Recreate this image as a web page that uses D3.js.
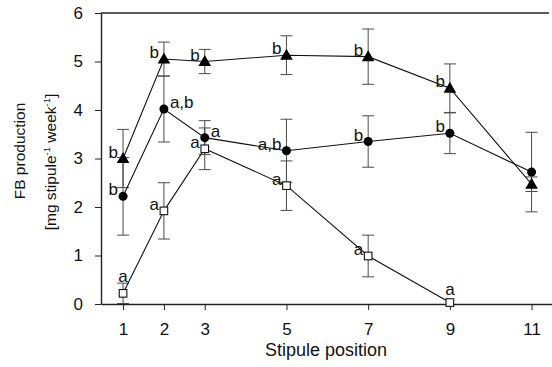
<!DOCTYPE html>
<html>
<head>
<meta charset="utf-8">
<script src="https://cdn.jsdelivr.net/npm/d3@7"></script>
<style>
  body { margin: 0; background: #fff; }
  svg text { font-family: Arial, "Liberation Sans", Helvetica, sans-serif; fill: #111; }
</style>
</head>
<body>
<div id="chart-area"></div>
<script>
// DATA
const positions = [1, 2, 3, 5, 7, 9, 11]
const xTicks = [1, 2, 3, 5, 7, 9, 11]
const yTicks = [0, 1, 2, 3, 4, 5, 6]

// triangles
const triMean = [3.0, 5.05, 5.0, 5.13, 5.1, 4.45, 2.47]
const triErr = [0.6, 0.35, 0.25, 0.4, 0.57, 0.5, 0.15]
const triLetters = ["b", "b", "b", "b", "b", "b", ""]

// circles
const circMean = [2.22, 4.02, 3.43, 3.16, 3.35, 3.52, 2.72]
const circErr = [0.8, 0.68, 0.35, 0.65, 0.53, 0.42, 0.82]
const circLetters = ["b", "a,b", "a", "a,b", "b", "b", ""]

// open squares (no value at 11)
const sqPositions = [1, 2, 3, 5, 7, 9]
const sqMean = [0.22, 1.92, 3.2, 2.44, 0.99, 0.03]
const sqErr = [0.21, 0.58, 0.43, 0.51, 0.43, 0]
const sqLetters = ["a", "a", "a", "a", "a", "a"]

// where each letter sits relative to its marker (l = left, r = right, t = top)
const triSide = ["l", "l", "l", "l", "l", "l", "l"]
const circSide = ["l", "r", "r", "l", "l", "l", "l"]
const sqSide = ["t", "l", "l", "l", "l", "t"]

// SIZE
const W = 552, H = 367
const svg = d3.select("#chart-area").append("svg")
  .attr("width", W).attr("height", H)

const x = d3.scaleLinear().domain([0.46, 11.5]).range([101, 552])
const y = d3.scaleLinear().domain([0, 6]).range([304, 13])

// top frame line
svg.append("line")
  .attr("x1", x(0.46)).attr("x2", 549)
  .attr("y1", y(6)).attr("y2", y(6))
  .attr("stroke", "#222").attr("stroke-width", 1.6)

// axes
const xAxis = svg.append("g")
  .attr("transform", `translate(0,${y(0)})`)
  .call(d3.axisBottom(x).tickValues(xTicks).tickSize(6).tickSizeOuter(0).tickPadding(13))
const yAxis = svg.append("g")
  .attr("transform", `translate(${x(0.46)},0)`)
  .call(d3.axisLeft(y).tickValues(yTicks).tickFormat(d3.format("d"))
    .tickSize(6).tickSizeOuter(0).tickPadding(12))

for (const ax of [xAxis, yAxis]) {
  ax.selectAll("text").attr("font-size", "17px").attr("fill", "#111")
  ax.selectAll("line").attr("stroke", "#222")
  ax.select(".domain").attr("stroke", "#222").attr("stroke-width", 1.4)
}

// axis titles
svg.append("text")
  .attr("x", 326).attr("y", 356)
  .attr("text-anchor", "middle").attr("font-size", "18px")
  .text("Stipule position")

svg.append("text")
  .attr("transform", "translate(25,151) rotate(-90)")
  .attr("text-anchor", "middle").attr("font-size", "15.5px")
  .text("FB production")

const yt2 = svg.append("text")
  .attr("transform", "translate(56,162) rotate(-90)")
  .attr("text-anchor", "middle").attr("font-size", "15.5px")
yt2.append("tspan").text("[mg stipule")
yt2.append("tspan").attr("font-size", "9.5px").attr("dy", -6).text("-1")
yt2.append("tspan").attr("dy", 6).text(" week")
yt2.append("tspan").attr("font-size", "9.5px").attr("dy", -6).text("-1")
yt2.append("tspan").attr("dy", 6).text("]")

function makeSeries(xs, means, errs) {
  return xs.map((p, i) => ({ p, m: means[i], e: errs[i] }))
}

const series = [
  { data: makeSeries(sqPositions, sqMean, sqErr), letters: sqLetters, side: sqSide, shape: "square" },
  { data: makeSeries(positions, circMean, circErr), letters: circLetters, side: circSide, shape: "circle" },
  { data: makeSeries(positions, triMean, triErr), letters: triLetters, side: triSide, shape: "triangle" }
]

const line = d3.line().x(d => x(d.p)).y(d => y(d.m))

// error bars first
series.forEach(s => {
  const g = svg.append("g").attr("stroke", "#4a4a4a").attr("stroke-width", 1)
  s.data.filter(d => d.e > 0).forEach(d => {
    const cx = x(d.p)
    g.append("line").attr("x1", cx).attr("x2", cx)
      .attr("y1", y(d.m - d.e)).attr("y2", y(d.m + d.e))
    g.append("line").attr("x1", cx - 6).attr("x2", cx + 6)
      .attr("y1", y(d.m - d.e)).attr("y2", y(d.m - d.e))
    g.append("line").attr("x1", cx - 6).attr("x2", cx + 6)
      .attr("y1", y(d.m + d.e)).attr("y2", y(d.m + d.e))
  })
})

// connecting lines
series.forEach(s => {
  svg.append("path").datum(s.data)
    .attr("d", line).attr("fill", "none")
    .attr("stroke", "#111").attr("stroke-width", 1.1)
})

// markers
series.forEach(s => {
  const g = svg.append("g")
  s.data.forEach(d => {
    const cx = x(d.p), cy = y(d.m)
    if (s.shape === "circle") {
      g.append("circle").attr("cx", cx).attr("cy", cy).attr("r", 4.5).attr("fill", "#000")
    } else if (s.shape === "triangle") {
      g.append("path")
        .attr("d", `M${cx},${cy - 6.5} L${cx + 6.3},${cy + 4.5} L${cx - 6.3},${cy + 4.5} Z`)
        .attr("fill", "#000")
    } else {
      g.append("rect").attr("x", cx - 3.8).attr("y", cy - 3.8).attr("width", 7.6).attr("height", 7.6)
        .attr("fill", "#fff").attr("stroke", "#111").attr("stroke-width", 1.1)
    }
  })
})

// significance letters
series.forEach(s => {
  s.data.forEach((d, i) => {
    const t = s.letters[i]
    if (!t) return
    const cx = x(d.p), cy = y(d.m)
    const side = s.side[i]
    const txt = svg.append("text").attr("font-size", "17px").text(t)
    if (side === "l") {
      txt.attr("x", cx - 5).attr("y", cy - 1).attr("text-anchor", "end")
    } else if (side === "r") {
      txt.attr("x", cx + 6).attr("y", cy - 1).attr("text-anchor", "start")
    } else {
      txt.attr("x", cx).attr("y", Math.min(cy - 8, y(d.m + d.e) - 1)).attr("text-anchor", "middle")
    }
  })
})
</script>
</body>
</html>
